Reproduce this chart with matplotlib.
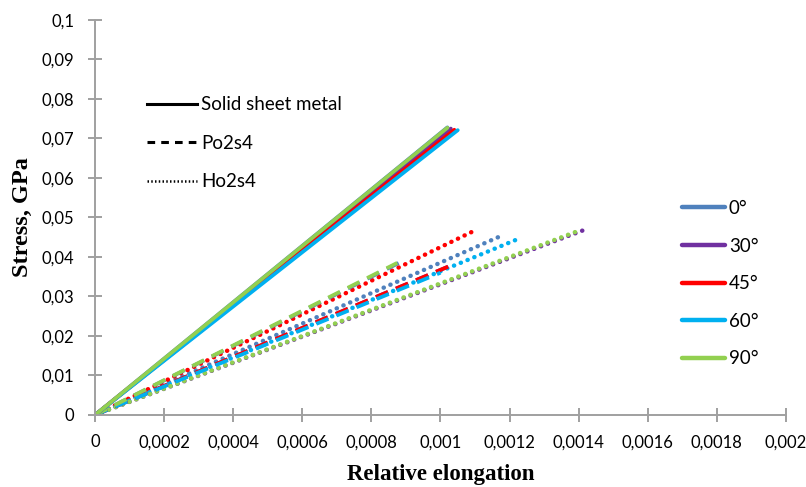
import matplotlib
matplotlib.use("Agg")
import matplotlib.pyplot as plt
from matplotlib.lines import Line2D

# Fibre orientation angles and their colours
angles = ["0°", "30°", "45°", "60°", "90°"]
colors = ["#4F81BD", "#7030A0", "#FF0000", "#00B0F0", "#92D050"]

# End points (relative elongation, stress in GPa) of each linear curve
solid_strain = [0.00102, 0.00103, 0.00104, 0.00105, 0.00102]
solid_stress = [0.0728, 0.0725, 0.0722, 0.0721, 0.0727]

po_strain = [0.00088, 0.00104, 0.00104, 0.00100, 0.000875]
po_stress = [0.0385, 0.0382, 0.0382, 0.0360, 0.0385]

ho_strain = [0.00118, 0.001415, 0.00109, 0.001226, 0.00139]
ho_stress = [0.0455, 0.0468, 0.0463, 0.0446, 0.0463]

x_ticks = [0, 0.0002, 0.0004, 0.0006, 0.0008, 0.001, 0.0012, 0.0014, 0.0016, 0.0018, 0.002]
x_labels = ["0", "0,0002", "0,0004", "0,0006", "0,0008", "0,001", "0,0012",
            "0,0014", "0,0016", "0,0018", "0,002"]
y_ticks = [0, 0.01, 0.02, 0.03, 0.04, 0.05, 0.06, 0.07, 0.08, 0.09, 0.1]
y_labels = ["0", "0,01", "0,02", "0,03", "0,04", "0,05", "0,06", "0,07", "0,08", "0,09", "0,1"]

tick_font = "Lato"
lw = 2.7
dash_style = (0, (3.5, 2.3))
dot_style = (0, (0.05, 1.6))

fig = plt.figure(figsize=(8.06, 4.87), dpi=100)
ax = fig.add_axes([0.118, 0.148, 0.857, 0.811])

for eps, sig, c in zip(ho_strain, ho_stress, colors):
    ax.plot([0, eps], [0, sig], color=c, lw=3.2, linestyle=dot_style,
            dash_capstyle="round", solid_capstyle="round")
for eps, sig, c in zip(po_strain, po_stress, colors):
    ax.plot([0, eps], [0, sig], color=c, lw=lw, linestyle=dash_style,
            dash_capstyle="butt")
for eps, sig, c in zip(solid_strain, solid_stress, colors):
    ax.plot([0, eps], [0, sig], color=c, lw=lw, solid_capstyle="round")

ax.set_xlim(0, 0.002)
ax.set_ylim(0, 0.1)
ax.set_xticks(x_ticks)
ax.set_xticklabels(x_labels, fontfamily=tick_font, fontsize=12)
ax.set_yticks(y_ticks)
ax.set_yticklabels(y_labels, fontfamily=tick_font, fontsize=12)

for side in ("top", "right"):
    ax.spines[side].set_visible(False)
for side in ("left", "bottom"):
    ax.spines[side].set_color("#A0A0A0")
    ax.spines[side].set_linewidth(1.4)
ax.tick_params(axis="both", direction="inout", length=10, width=1.4, color="#A0A0A0",
               labelcolor="black")
ax.tick_params(axis="x", pad=9)
ax.tick_params(axis="y", pad=10)

ax.set_xlabel("Relative elongation", fontfamily="Liberation Serif", fontweight="bold",
              fontsize=16.5, labelpad=10)
ax.set_ylabel("Stress, GPa", fontfamily="Liberation Serif", fontweight="bold",
              fontsize=17.5, labelpad=6)

# Legend for the sheet type (line style)
style_handles = [
    Line2D([], [], color="black", lw=2.2, linestyle="-"),
    Line2D([], [], color="black", lw=2.2, linestyle=(0, (2.5, 2.0))),
    Line2D([], [], color="black", lw=1.8, linestyle=(0, (0.6, 0.9))),
]
leg1 = ax.legend(style_handles, ["Solid sheet metal", "Po2s4", "Ho2s4"],
                 loc="upper left", bbox_to_anchor=(0.05, 0.85), frameon=False,
                 prop={"family": tick_font, "size": 13.5}, handlelength=2.7,
                 handletextpad=0.2, labelspacing=1.15)
ax.add_artist(leg1)

# Legend for the orientation angle (colour)
angle_handles = [Line2D([], [], color=c, lw=3.2, solid_capstyle="round") for c in colors]
ax.legend(angle_handles, angles, loc="upper left", bbox_to_anchor=(0.825, 0.587),
          frameon=False, prop={"family": tick_font, "size": 13.5}, handlelength=2.3,
          handletextpad=0.2, labelspacing=1.1)

fig.savefig("out.png", dpi=100)
